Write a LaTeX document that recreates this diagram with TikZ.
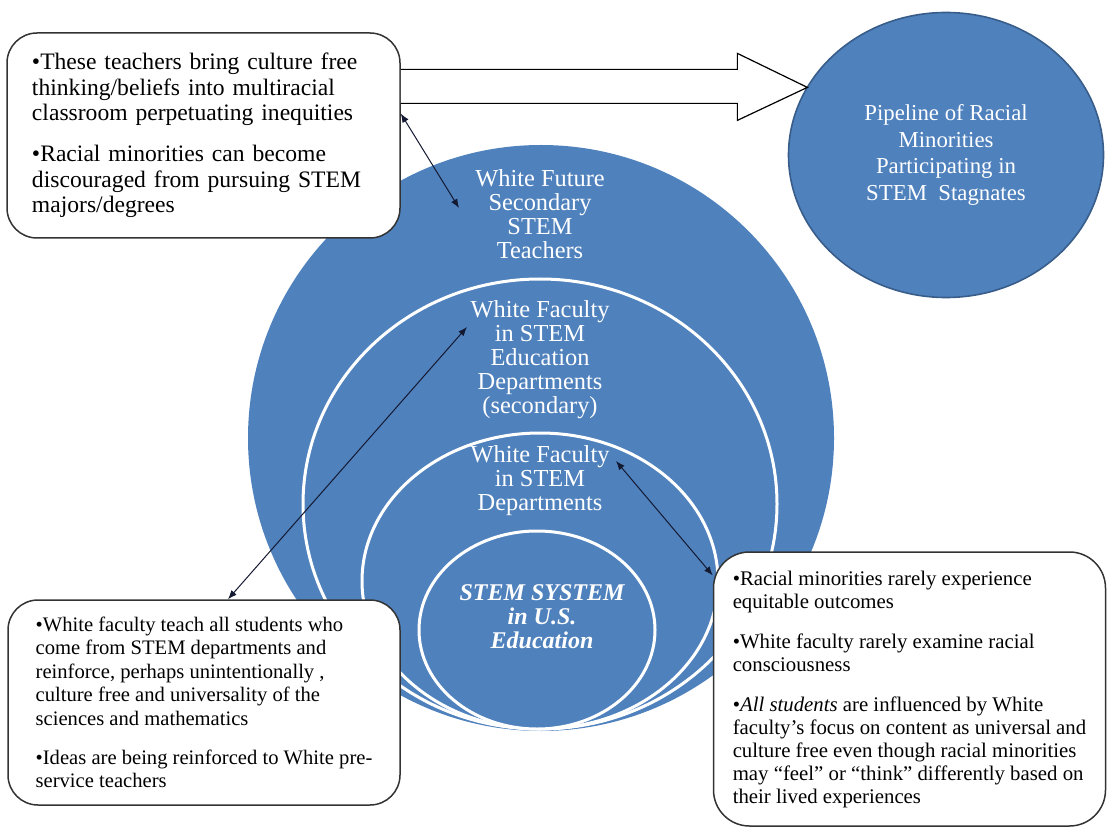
\documentclass[tikz,border=0pt]{standalone}
\usepackage{fontspec}
\setmainfont{Liberation Serif}
\usetikzlibrary{shapes.geometric,arrows.meta,calc}
\definecolor{stemblue}{RGB}{79,129,189}
\definecolor{stemedge}{RGB}{56,93,138}
\definecolor{linkcol}{RGB}{20,25,50}

\begin{document}
\begin{tikzpicture}[x=0.5pt, y=-0.5pt,
    disc/.style={ellipse, fill=stemblue, inner sep=0pt, outer sep=0pt},
    ring/.style={disc, draw=white, line width=1.5pt},
    lbl/.style={text=white, align=center, font=\fontsize{12.2}{12}\selectfont},
    infobox/.style={rectangle, draw=black!80, line width=0.75pt, fill=white, rounded corners=15pt, align=left, inner sep=0pt},
    blockarrow/.style={draw=black, fill=white, line width=0.6pt, line join=miter},
    link/.style={{Latex[length=4.5pt,width=3.5pt]}-{Latex[length=4.5pt,width=3.5pt]}, draw=linkcol, line width=0.5pt}]
    \useasboundingbox (0,0) rectangle (1107,828);

    % Stacked circles
    \node[disc, minimum width=293pt, minimum height=293pt] (outer) at (541,438) {};
    \node[ring, minimum width=237pt, minimum height=225pt] (educ) at (540,504) {};
    \node[ring, minimum width=178pt, minimum height=148pt] (dept) at (540,581) {};
    \node[ring, minimum width=118pt, minimum height=99pt] (system) at (537,630) {};

    % Circle labels
    \node[lbl] (futurelbl) at (540,214) {White Future\\Secondary\\STEM\\Teachers};
    \node[lbl] (educlbl) at (540,360) {White Faculty\\in STEM\\Education\\Departments\\(secondary)};
    \node[lbl] (deptlbl) at (540,481) {White Faculty\\in STEM\\Departments};
    \node[lbl, font=\fontsize{12}{12}\selectfont\bfseries\itshape] (systemlbl) at (542,617) {STEM SYSTEM\\in U.S.\\Education};

    % Outcome
    \node[disc, draw=stemedge, line width=0.8pt, minimum width=157.5pt, minimum height=142.5pt, text=white, align=center, font=\fontsize{11.4}{13.3}\selectfont] (pipeline) at (946,155) {Pipeline of Racial\\Minorities\\Participating in\\STEM~~Stagnates};

    % Boxes
    \node[infobox, minimum width=196.5pt, minimum height=102.5pt, text width=171.5pt, font=\fontsize{11.8}{12.8}\selectfont] (topbox) at (203.5,135.5) {\textbullet These teachers bring culture free\\thinking/beliefs into multiracial\\classroom perpetuating inequities\\[7.5pt]\textbullet Racial minorities can become\\discouraged from pursuing STEM\\majors/degrees};
    \node[infobox, minimum width=196pt, minimum height=102.5pt, font=\fontsize{10.3}{11.7}\selectfont] (leftbox) at (204,702.5) {\textbullet White faculty teach all students who\\come from STEM departments and\\reinforce, perhaps unintentionally ,\\culture free and universality of the\\sciences and mathematics\\[8pt]\textbullet Ideas are being reinforced to White pre-\\service teachers};
    \node[infobox, rounded corners=18pt, minimum width=196pt, minimum height=137pt, font=\fontsize{10.4}{11.5}\selectfont] (rightbox) at (909.5,689) {\textbullet Racial minorities rarely experience\\equitable outcomes\\[8.5pt]\textbullet White faculty rarely examine racial\\consciousness\\[8.5pt]\textbullet\textit{All students} are influenced by White\\faculty’s focus on content as universal and\\culture free even though racial minorities\\may “feel” or “think” differently based on\\their lived experiences};

    % Block arrow
    \coordinate (tip) at (pipeline.154);
    \draw[blockarrow] ($(topbox.east |- tip)+(0,-18)$) -- ($(tip)+(-70,-18)$) -- ($(tip)+(-70,-34)$) -- (tip)
        -- ($(tip)+(-70,33)$) -- ($(tip)+(-70,16)$) -- ($(topbox.east |- tip)+(0,16)$);

    % Arrows
    \coordinate (futuretip) at (459,208);
    \coordinate (eductip) at (467,327);
    \coordinate (depttip) at (616,461);
    \draw[link] ($(topbox.east)+(0,-22)$) -- (futuretip);
    \draw[link] ($(leftbox.north)+(24,0)$) -- (eductip);
    \draw[link] (rightbox.150) -- (depttip);
\end{tikzpicture}
\end{document}
